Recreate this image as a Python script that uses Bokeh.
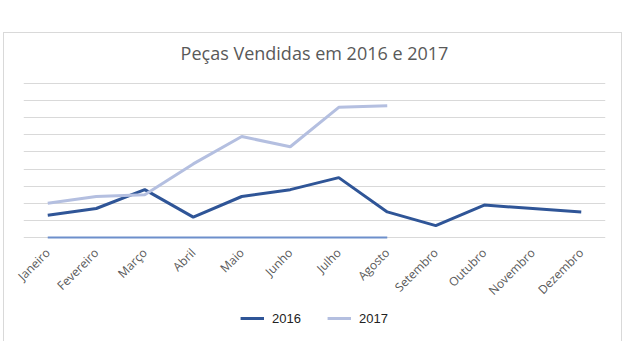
import math
from bokeh.plotting import figure
from bokeh.models import Legend, LegendItem, Div
from bokeh.layouts import column
from bokeh.embed import file_html
from bokeh.resources import INLINE

months = ["Janeiro", "Fevereiro", "Março", "Abril", "Maio", "Junho", "Julho",
          "Agosto", "Setembro", "Outubro", "Novembro", "Dezembro"]
vendas_2016 = [13, 17, 28, 12, 24, 28, 35, 15, 7, 19, 17, 15]
months_2017 = months[:8]
vendas_2017 = [20, 24, 25, 43, 59, 53, 76, 77]
serie_base = [0, 0, 0, 0, 0, 0, 0, 0]
grid_values = list(range(0, 91, 10))
series_names = ["2016", "2017"]

C16, C17, CBASE, CBOX = "#2f5597", "#b4bfe0", "#6d8fcb", "#d9d9d9"

header = Div(
    text='<div style="height:6px;overflow:hidden;position:relative;width:628px">'
         '<div style="position:absolute;top:-7px;left:0;width:628px;text-align:center;'
         'white-space:nowrap;font-family:\'Liberation Sans\';font-size:15px;'
         'line-height:15px;color:#000">'
         'GRÁFICO 8: Peças vendidas em 2016 e 2017</div></div>',
    width=628, height=6, margin=0, styles={"overflow": "hidden"})

p = figure(width=628, height=302, x_range=months, y_range=(-0.5, 90.5),
           output_backend="svg", toolbar_location=None,
           min_border_left=23, min_border_right=23,
           min_border_top=76, min_border_bottom=70)
p.x_range.range_padding = 0
p.outline_line_color = None
p.background_fill_color = "white"
p.border_fill_alpha = 0
p.styles = {
    "background-image": f"linear-gradient({CBOX},{CBOX}),linear-gradient({CBOX},{CBOX}),"
                        f"linear-gradient({CBOX},{CBOX})",
    "background-size": "1px 310px, 1px 310px, 619px 1px",
    "background-position": "3px 26px, 621px 26px, 3px 26px",
    "background-repeat": "no-repeat",
}

p.title.text = "Peças Vendidas em 2016 e 2017"
p.title.align = "center"
p.title.text_font = "Open Sans"
p.title.text_font_size = "18px"
p.title.text_font_style = "normal"
p.title.text_color = "#595959"
p.title.standoff = 36

p.yaxis.visible = False
p.xgrid.grid_line_color = None
p.ygrid.grid_line_color = CBOX
p.ygrid.grid_line_width = 1
p.yaxis.ticker = grid_values
p.ygrid.ticker = grid_values

p.xaxis.axis_line_color = None
p.xaxis.major_tick_line_color = None
p.xaxis.minor_tick_line_color = None
p.xaxis.major_label_orientation = math.pi / 4
p.xaxis.major_label_text_font = "Open Sans"
p.xaxis.major_label_text_font_size = "12px"
p.xaxis.major_label_text_color = "#595959"
p.xaxis.major_label_standoff = 6

p.line(months_2017, serie_base, line_color=CBASE, line_width=2.5)
p.line(months, vendas_2016, line_color=C16, line_width=3)
p.line(months_2017, vendas_2017, line_color=C17, line_width=3)

# legend strip under the chart (series drawn out of view; only the legend shows)
lg = figure(width=628, height=33, x_range=months, y_range=(-1000, -999),
            output_backend="svg", toolbar_location=None,
            min_border_left=0, min_border_right=0, min_border_top=0, min_border_bottom=0)
lg.axis.visible = False
lg.grid.visible = False
lg.outline_line_color = None
lg.background_fill_alpha = 0
lg.border_fill_alpha = 0
lg.styles = {
    "background-image": f"linear-gradient({CBOX},{CBOX}),linear-gradient({CBOX},{CBOX})",
    "background-size": "1px 40px, 1px 40px",
    "background-position": "3px 0px, 621px 0px",
    "background-repeat": "no-repeat",
}
k16 = lg.line(months, vendas_2016, line_color=C16, line_width=3)
k17 = lg.line(months_2017, vendas_2017, line_color=C17, line_width=3)
legend = Legend(items=[LegendItem(label=series_names[0], renderers=[k16]),
                       LegendItem(label=series_names[1], renderers=[k17])],
                orientation="horizontal", location="top_center",
                label_text_font="Liberation Sans", label_text_font_size="13px",
                label_text_color="#222222", glyph_width=24, label_standoff=8,
                spacing=26, border_line_color=None, background_fill_alpha=0,
                padding=2, margin=0)
lg.add_layout(legend)

layout = column(header, p, lg, spacing=0)
open("out.html", "w").write(file_html(layout, INLINE))
